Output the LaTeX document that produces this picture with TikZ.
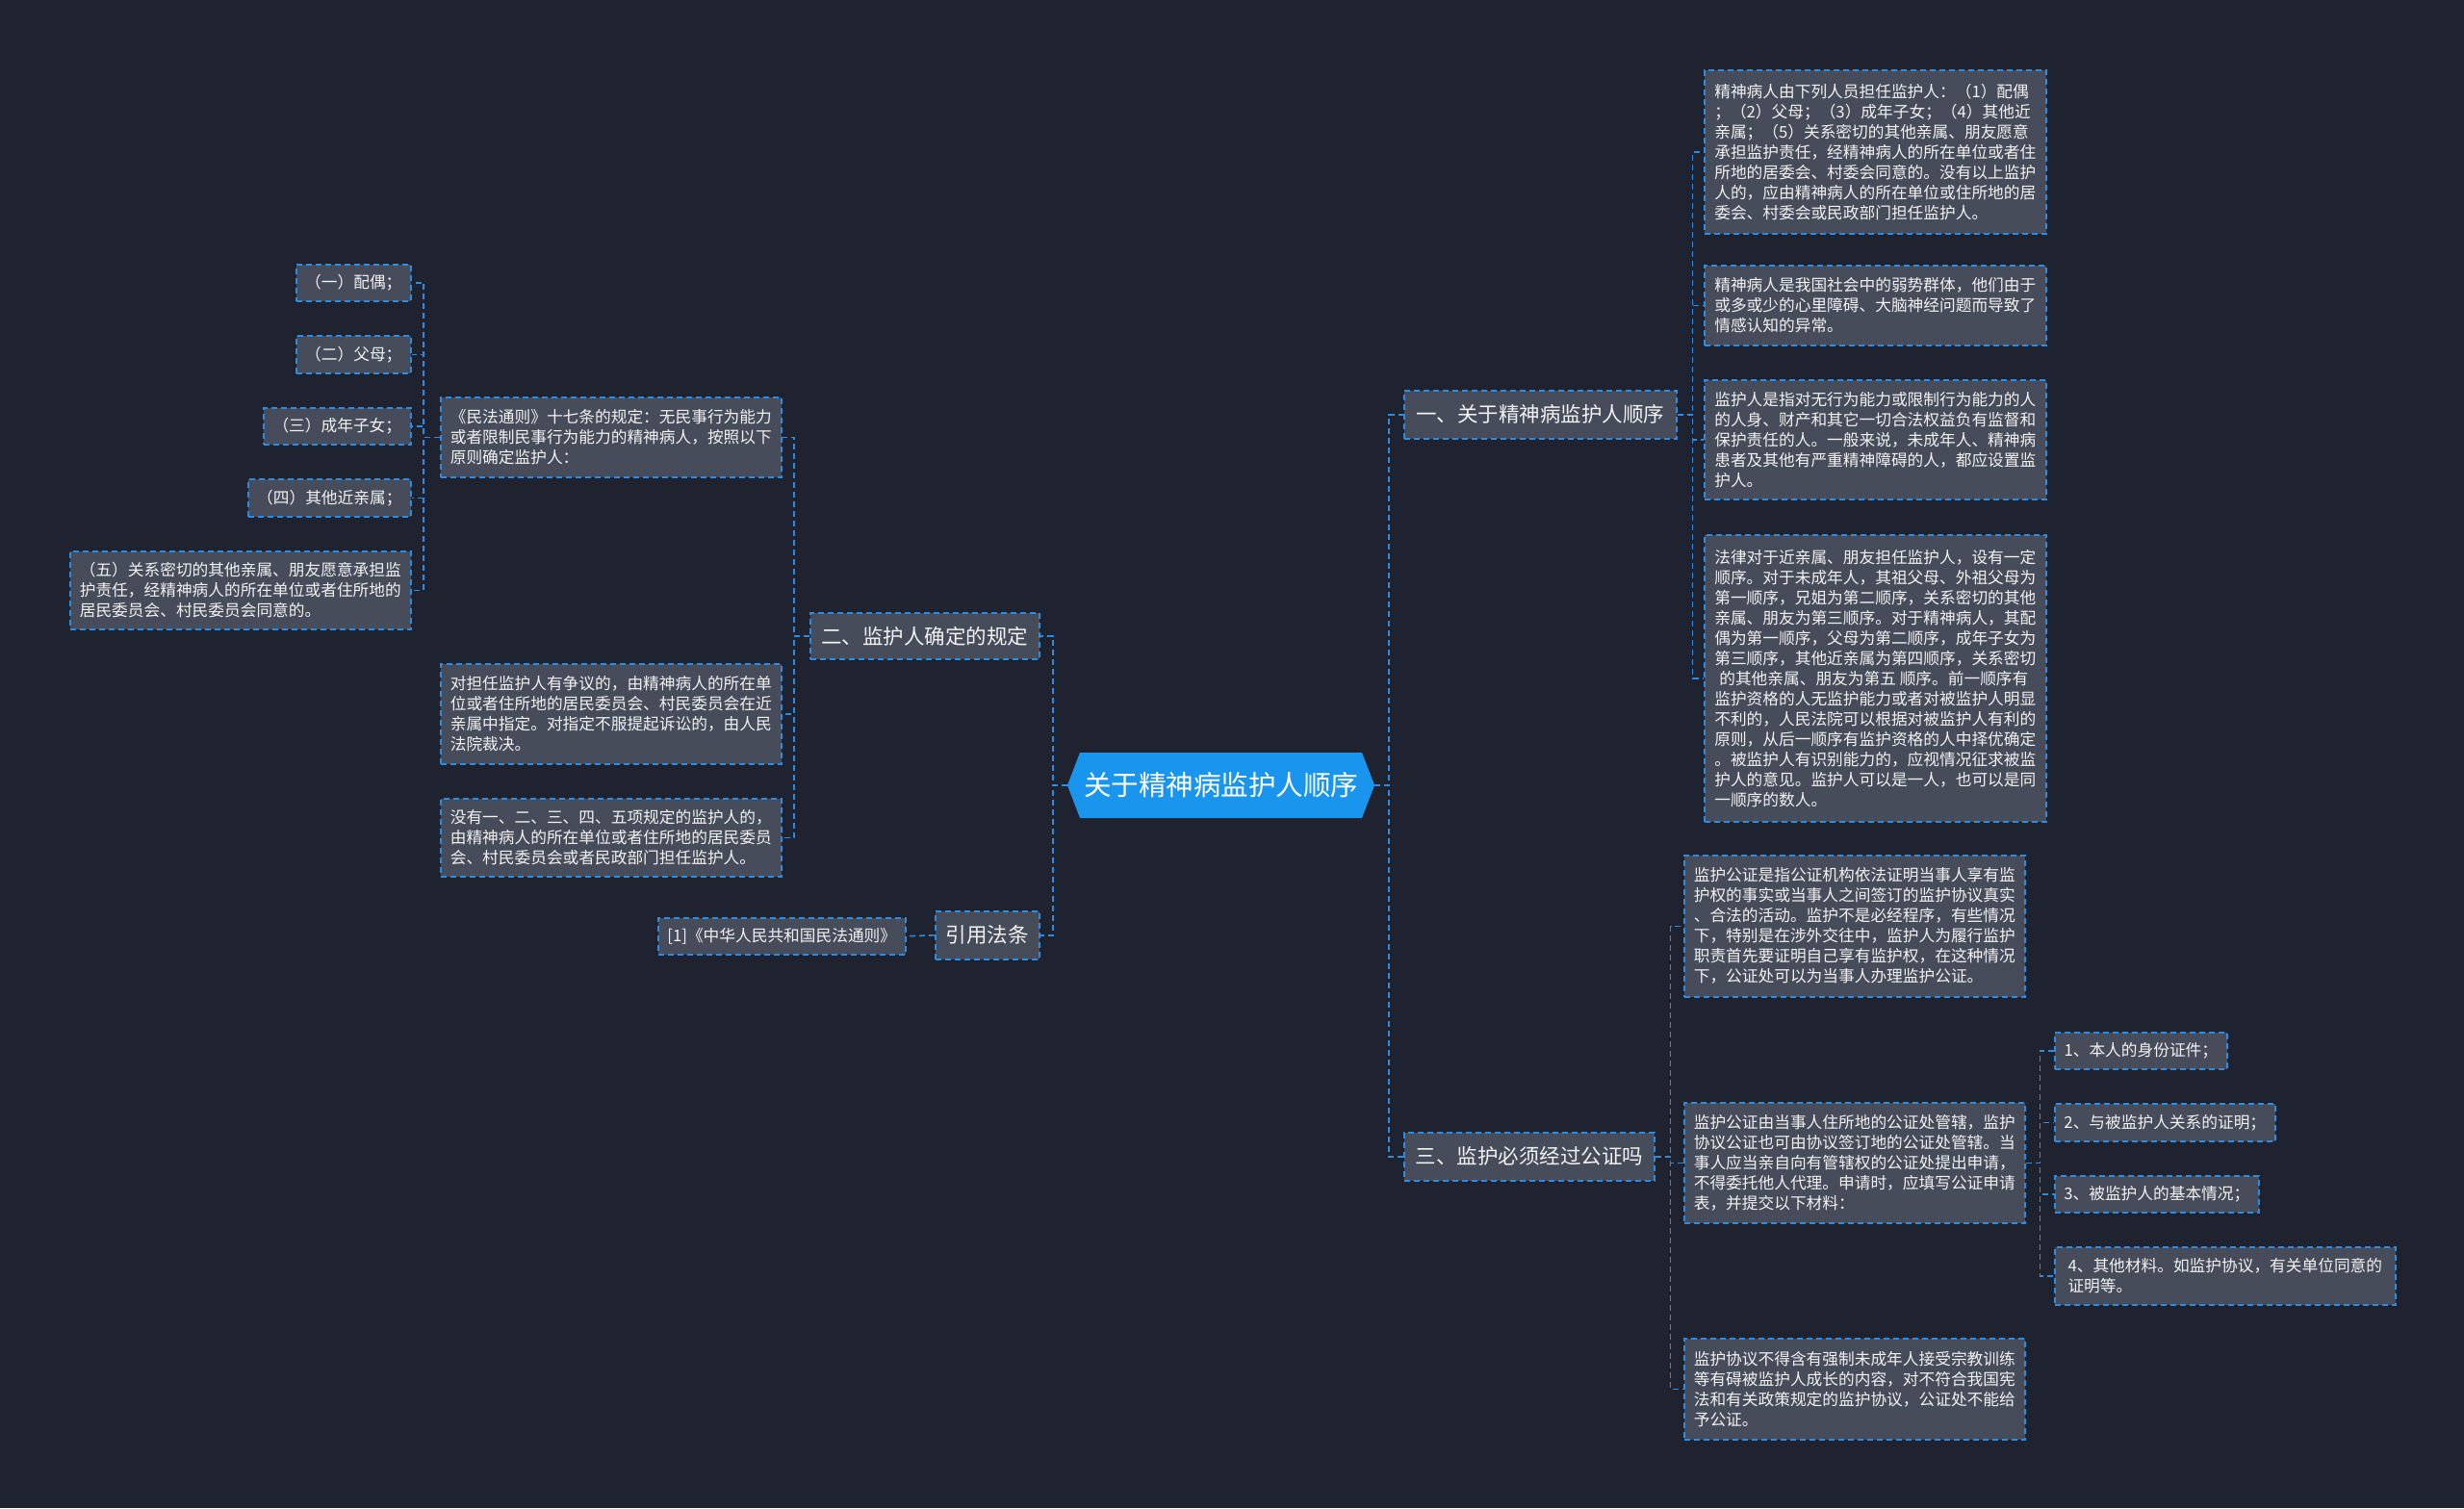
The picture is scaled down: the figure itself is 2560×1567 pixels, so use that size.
\documentclass[tikz,border=0pt]{standalone}
\usepackage{fontspec}
\setmainfont{Noto Sans CJK SC}
\usetikzlibrary{shapes.symbols}
\definecolor{bg}{HTML}{1F2330}
\definecolor{boxfill}{HTML}{464C5A}
\definecolor{lineblue}{HTML}{2A8CE2}
\definecolor{rootblue}{HTML}{1A95EE}
\definecolor{txt}{HTML}{F2F2F2}
\newcommand{\fdet}{\fontsize{16.7}{21}\selectfont}
\newcommand{\fbr}{\fontsize{21.5}{26}\selectfont}
\newcommand{\froot}{\fontsize{28.5}{34}\selectfont}
\begin{document}
\begin{tikzpicture}[x=1pt,y=-1pt,
  box/.style={draw=lineblue, line width=1.6pt, dash pattern=on 6pt off 4pt,
    fill=boxfill, text=txt, align=left, inner sep=0pt, anchor=north west, font=\fdet},
  branch/.style={box, font=\fbr},
  rootnode/.style={signal, signal to=west and east, signal pointer angle=138,
    fill=rootblue, text=white, font=\froot, inner xsep=4pt, inner ysep=4pt,
    minimum height=68pt},
  conn/.style={draw=lineblue, line width=1.6pt, dash pattern=on 6pt off 4pt}]
\useasboundingbox (0,0) rectangle (2560,1567);
\fill[bg] (0,0) rectangle (2560,1567);

% root
\node[rootnode] (root) at (1268.5,816) {关于精神病监护人顺序};

% right branches
\node[branch, minimum width=283, minimum height=50] (b1) at (1458,405) {一、关于精神病监护人顺序};
\node[branch, minimum width=260, minimum height=50] (b3) at (1458,1176) {三、监护必须经过公证吗};

% left branches
\node[branch, minimum width=238, minimum height=48] (b2) at (841,636) {二、监护人确定的规定};
\node[branch, minimum width=108, minimum height=50] (b4) at (971,946) {引用法条};
\node[box, minimum width=257, minimum height=38] (ref1) at (683,953) {[1]《中华人民共和国民法通则》};

% children of b1
\node[box, minimum width=355, minimum height=170] (r1) at (1770,72) {精神病人由下列人员担任监护人：（1）配偶\\；（2）父母；（3）成年子女；（4）其他近\\亲属；（5）关系密切的其他亲属、朋友愿意\\承担监护责任，经精神病人的所在单位或者住\\所地的居委会、村委会同意的。没有以上监护\\人的，应由精神病人的所在单位或住所地的居\\委会、村委会或民政部门担任监护人。};
\node[box, minimum width=355, minimum height=83] (r2) at (1770,275) {精神病人是我国社会中的弱势群体，他们由于\\或多或少的心里障碍、大脑神经问题而导致了\\情感认知的异常。};
\node[box, minimum width=355, minimum height=124] (r3) at (1770,394) {监护人是指对无行为能力或限制行为能力的人\\的人身、财产和其它一切合法权益负有监督和\\保护责任的人。一般来说，未成年人、精神病\\患者及其他有严重精神障碍的人，都应设置监\\护人。};
\node[box, minimum width=355, minimum height=298] (r4) at (1770,555) {法律对于近亲属、朋友担任监护人，设有一定\\顺序。对于未成年人，其祖父母、外祖父母为\\第一顺序，兄姐为第二顺序，关系密切的其他\\亲属、朋友为第三顺序。对于精神病人，其配\\偶为第一顺序，父母为第二顺序，成年子女为\\第三顺序，其他近亲属为第四顺序，关系密切\\\hspace*{5pt}的其他亲属、朋友为第五 顺序。前一顺序有\\监护资格的人无监护能力或者对被监护人明显\\不利的，人民法院可以根据对被监护人有利的\\原则，从后一顺序有监护资格的人中择优确定\\。被监护人有识别能力的，应视情况征求被监\\护人的意见。监护人可以是一人，也可以是同\\一顺序的数人。};

% children of b3
\node[box, minimum width=354, minimum height=147] (s1) at (1749,888) {监护公证是指公证机构依法证明当事人享有监\\护权的事实或当事人之间签订的监护协议真实\\、合法的活动。监护不是必经程序，有些情况\\下，特别是在涉外交往中，监护人为履行监护\\职责首先要证明自己享有监护权，在这种情况\\下，公证处可以为当事人办理监护公证。};
\node[box, minimum width=354, minimum height=125] (s2) at (1749,1145) {监护公证由当事人住所地的公证处管辖，监护\\协议公证也可由协议签订地的公证处管辖。当\\事人应当亲自向有管辖权的公证处提出申请，\\不得委托他人代理。申请时，应填写公证申请\\表，并提交以下材料：};
\node[box, minimum width=354, minimum height=105] (s3) at (1749,1390) {监护协议不得含有强制未成年人接受宗教训练\\等有碍被监护人成长的内容，对不符合我国宪\\法和有关政策规定的监护协议，公证处不能给\\予公证。};

% children of s2
\node[box, minimum width=179, minimum height=38] (t1) at (2134,1072) {1、本人的身份证件；};
\node[box, minimum width=229, minimum height=39] (t2) at (2134,1146) {2、与被监护人关系的证明；};
\node[box, minimum width=212, minimum height=38] (t3) at (2134,1221) {3、被监护人的基本情况；};
\node[box, minimum width=354, minimum height=60] (t4) at (2134,1295) {4、其他材料。如监护协议，有关单位同意的\\证明等。};

% children of b2
\node[box, minimum width=354, minimum height=83] (l1) at (457,412) {《民法通则》十七条的规定：无民事行为能力\\或者限制民事行为能力的精神病人，按照以下\\原则确定监护人：};
\node[box, minimum width=354, minimum height=104] (l2) at (457,689) {对担任监护人有争议的，由精神病人的所在单\\位或者住所地的居民委员会、村民委员会在近\\亲属中指定。对指定不服提起诉讼的，由人民\\法院裁决。};
\node[box, minimum width=354, minimum height=81] (l3) at (457,829) {没有一、二、三、四、五项规定的监护人的，\\由精神病人的所在单位或者住所地的居民委员\\会、村民委员会或者民政部门担任监护人。};

% children of l1
\node[box, minimum width=119, minimum height=38] (m1) at (307,274) {（一）配偶；};
\node[box, minimum width=119, minimum height=39] (m2) at (307,348) {（二）父母；};
\node[box, minimum width=153, minimum height=38] (m3) at (273,423) {（三）成年子女；};
\node[box, minimum width=169, minimum height=39] (m4) at (257,497) {（四）其他近亲属；};
\node[box, minimum width=354, minimum height=81] (m5) at (72,572) {（五）关系密切的其他亲属、朋友愿意承担监\\护责任，经精神病人的所在单位或者住所地的\\居民委员会、村民委员会同意的。};

% connectors
\foreach \c in {b1,b3} \draw[conn] (root.east) -- ++(15,0) |- (\c.west);
\foreach \c in {b2,b4} \draw[conn] (root.west) -- ++(-15,0) |- (\c.east);
\foreach \c in {r1,r2,r3,r4} \draw[conn] (b1.east) -- ++(16,0) |- (\c.west);
\foreach \c in {s1,s2,s3} \draw[conn] (b3.east) -- ++(16,0) |- (\c.west);
\foreach \c in {t1,t2,t3,t4} \draw[conn] (s2.east) -- ++(15,0) |- (\c.west);
\foreach \c in {l1,l2,l3} \draw[conn] (b2.west) -- ++(-16,0) |- (\c.east);
\foreach \c in {m1,m2,m3,m4,m5} \draw[conn] (l1.west) -- ++(-17,0) |- (\c.east);
\draw[conn] (b4.west) -- (ref1.east);
\end{tikzpicture}
\end{document}
